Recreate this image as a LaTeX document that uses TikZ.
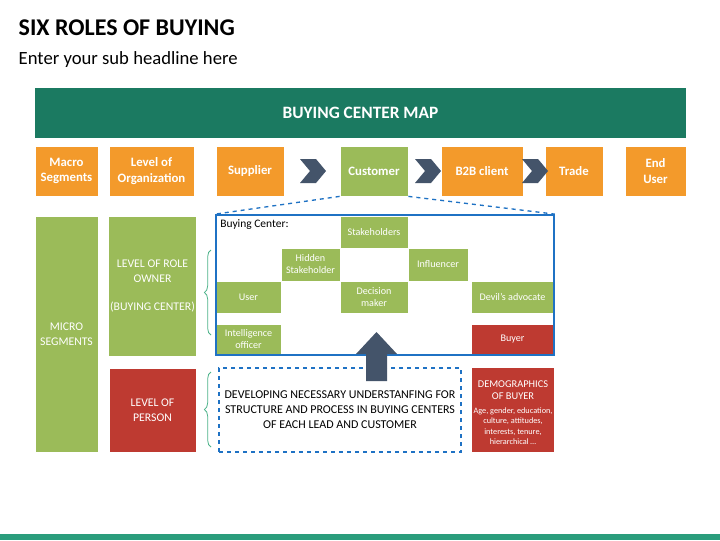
\documentclass[tikz,border=0pt]{standalone}
\usepackage{fontspec}
\setmainfont{Carlito}
\usetikzlibrary{decorations.pathreplacing}
\definecolor{org}{HTML}{F39A2B}
\definecolor{grn}{HTML}{9BBB59}
\definecolor{rd}{HTML}{BE3A31}
\definecolor{teal}{HTML}{1B7A61}
\definecolor{navy}{HTML}{44546A}
\definecolor{blu}{HTML}{1F72C4}
\definecolor{brc}{HTML}{4DB38A}
\definecolor{foot}{HTML}{2A9D7C}
\tikzset{
  cell/.style={draw=white,line width=0.6pt,text=white,align=center,inner sep=1pt,font=\fontsize{7.6}{9}\selectfont},
  big/.style={cell,font=\fontsize{9.6}{11.5}\selectfont\bfseries},
  mid/.style={cell,font=\fontsize{8.8}{11}\selectfont},
  chev/.style={fill=navy,draw=none},
}
\newcommand{\bx}[8]{\node[#7,fill=#6,minimum width={(#4-#2)*0.75pt},minimum height={(#5-#3)*0.75pt}] (#1) at ({(#2+#4)/2},{(#3+#5)/2}) {#8};}
\newcommand{\chevr}[3]{\fill[chev] (#1,#2) -- ({#1+16},#2) -- ({#1+26},{#2+12}) -- ({#1+16},{#2+24}) -- (#1,{#2+24}) -- ({#1+10},{#2+12}) -- cycle; \coordinate (#3) at ({#1+13},{#2+12});}
\begin{document}
\begin{tikzpicture}[x=0.75pt,y=-0.75pt]
\useasboundingbox (0,0) rectangle (720,540);
\fill[white] (0,0) rectangle (720,540);
\node[anchor=west,font=\fontsize{18}{21}\selectfont\bfseries] (title) at (14,28) {SIX ROLES OF BUYING};
\node[anchor=west,font=\fontsize{14}{17}\selectfont] (sub) at (14,60) {Enter your sub headline here};
\fill[foot] (0,534) rectangle (720,540);
\bx{hdr}{35}{88}{686}{138}{teal}{big,draw=none,font=\fontsize{13}{15}\selectfont\bfseries}{BUYING CENTER MAP}
\bx{macro}{35}{146}{98}{196}{org}{big}{Macro\\Segments}
\bx{lorg}{109}{146}{194}{196}{org}{big}{Level of\\Organization}
\bx{sup}{216}{146}{284}{196}{org}{big}{Supplier}
\bx{cust}{340}{146}{408}{196}{grn}{big}{Customer}
\bx{b2b}{441}{146}{523}{196}{org}{big}{B2B client}
\bx{trade}{545}{146}{603}{196}{org}{big}{Trade}
\bx{enduser}{625}{146}{686}{196}{org}{big}{End\\User}
\chevr{300}{159}{c1}
\chevr{415}{159}{c2}
\chevr{522}{159}{c3}
\bx{micro}{35}{216}{98}{452}{grn}{mid}{MICRO\\SEGMENTS}
\bx{role}{109}{216}{196}{356}{grn}{mid}{LEVEL OF ROLE\\OWNER\\[10pt](BUYING CENTER)}
\bx{person}{109}{368}{196}{452}{rd}{mid}{LEVEL OF\\PERSON}
\bx{stake}{340}{216}{408}{248}{grn}{cell}{Stakeholders}
\bx{hidden}{281}{248}{340}{281}{grn}{cell}{Hidden\\Stakeholder}
\bx{infl}{408}{248}{468}{281}{grn}{cell}{Influencer}
\bx{user}{216}{281}{281}{313}{grn}{cell}{User}
\bx{dec}{340}{281}{408}{313}{grn}{cell}{Decision\\maker}
\bx{devil}{471}{281}{554}{313}{grn}{cell}{Devil’s advocate}
\bx{intel}{216}{324}{281}{355}{grn}{cell}{Intelligence\\officer}
\bx{buyer}{471}{324}{554}{355}{rd}{cell}{Buyer}
\node[draw=blu,line width=1.3pt,minimum width={338*0.75pt},minimum height={140*0.75pt}] (bc) at (385,285) {};
\node[anchor=north west,inner sep=0pt,font=\fontsize{8.6}{10}\selectfont] (bclbl) at (220,219) {Buying Center:};
\draw[blu,dashed,line width=1pt] (cust.south west) -- (bc.north west);
\draw[blu,dashed,line width=1pt] (cust.south east) -- (bc.north east);
\node[draw=blu,dashed,line width=1pt,minimum width={242*0.75pt},minimum height={84*0.75pt},align=center,font=\fontsize{9}{11.2}\selectfont] (dev) at (340,410) {DEVELOPING NECESSARY UNDERSTANFING FOR\\STRUCTURE AND PROCESS IN BUYING CENTERS\\OF EACH LEAD AND CUSTOMER};
\node[fill=rd,minimum width={82*0.75pt},minimum height={84*0.75pt}] (demo) at (513,410) {};
\node[text=white,align=center,font=\fontsize{7.8}{9.5}\selectfont] (demot) at (513,390) {DEMOGRAPHICS\\OF BUYER};
\node[text=white,align=center,font=\fontsize{6.2}{7.8}\selectfont] (demob) at (513,426) {Age, gender, education,\\culture, attitudes,\\interests, tenure,\\hierarchical …};
\fill[navy] (366,381) -- (366,354) -- (356,354) -- (376.5,332) -- (397,354) -- (387,354) -- (387,381) -- cycle;
\coordinate (ar) at (376,340);
\draw[brc,line width=0.6pt,decorate,decoration={brace,amplitude=5pt}] (211,335) -- (211,250) coordinate[pos=0.5] (b1);
\draw[brc,line width=0.6pt,decorate,decoration={brace,amplitude=5pt}] (211,447) -- (211,372) coordinate[pos=0.5] (b2);
\end{tikzpicture}
\end{document}
